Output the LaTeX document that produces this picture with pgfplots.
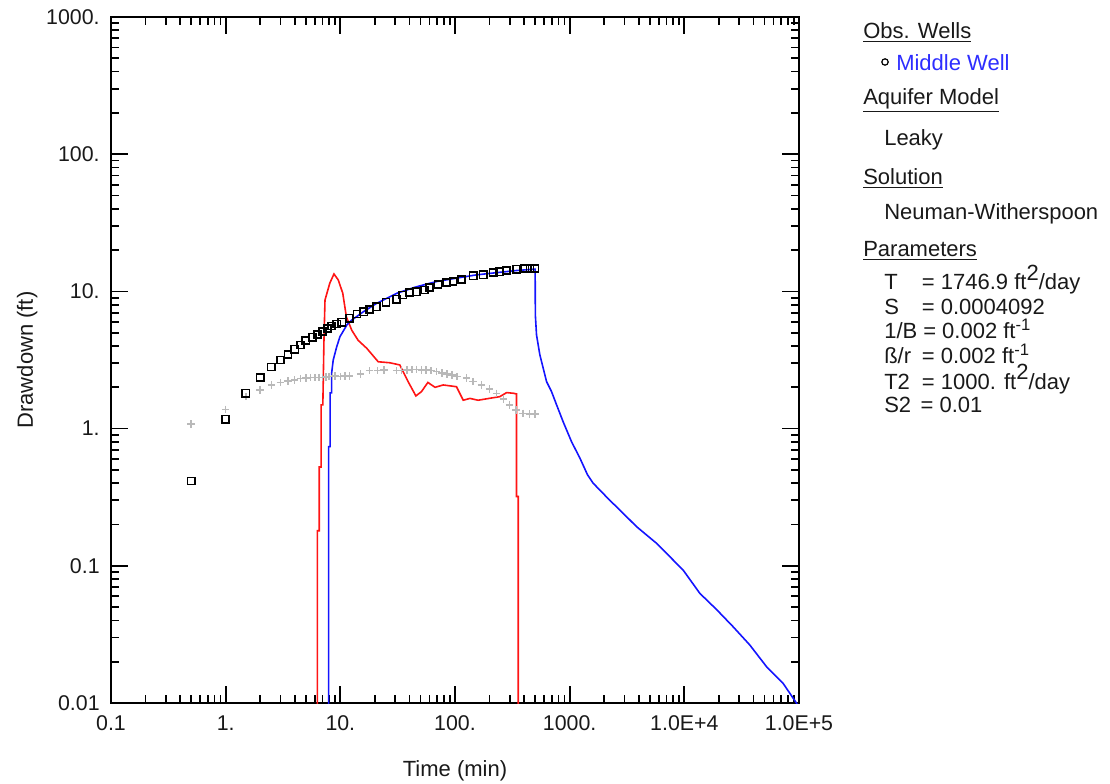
\documentclass[border=0pt]{standalone}
\usepackage{fontspec}
\setmainfont{Liberation Sans}
\usepackage{pgfplots}
\usepackage{pgfplotstable}
\pgfplotsset{compat=1.18}
\definecolor{txt}{RGB}{25,25,25}
\definecolor{plusgray}{RGB}{185,185,185}
\definecolor{mwblue}{RGB}{45,45,255}
\definecolor{mred}{RGB}{255,20,20}
\definecolor{mblue}{RGB}{20,20,255}

\pgfplotstableread{
t s
0.5 0.415
1.0 1.17
1.5 1.81
2.0 2.35
2.5 2.81
3.0 3.16
3.5 3.48
4.0 3.79
4.5 4.07
5.0 4.38
5.7 4.63
6.3 4.84
7.0 5.09
7.7 5.35
8.4 5.6
9.3 5.78
10.3 5.96
12 6.37
14 6.84
16 7.11
18 7.4
20.7 7.73
25 8.33
31 8.76
35 9.41
40 9.79
46 9.95
54 10.24
60 10.7
71 11.2
84 11.6
96 11.8
114 12.2
144 13.0
176 13.2
215 13.7
246 13.9
282 14.2
344 14.5
406 14.7
450 14.7
497 14.7
}\obsdata

\pgfplotstableread{
t d
0.5 1.08
1.0 1.38
1.5 1.71
2.0 1.91
2.5 2.08
3.0 2.16
3.5 2.22
4.0 2.26
4.5 2.31
5.0 2.34
5.5 2.35
6 2.35
6.5 2.36
7 2.36
7.5 2.37
8 2.39
8.5 2.40
9 2.42
10 2.39
11 2.41
12 2.42
15 2.5
18 2.64
21 2.65
24 2.67
31 2.64
34 2.66
38 2.67
42 2.69
46 2.7
51 2.68
56 2.67
62 2.64
69 2.6
77 2.55
85 2.5
94 2.45
104 2.39
126 2.33
144 2.2
170 2.08
200 1.94
230 1.81
265 1.64
300 1.49
340 1.37
390 1.29
445 1.28
497 1.28
}\derivdata

\pgfplotstableread{
t d
6.3 0.001
6.3 0.18
6.55 0.18
6.55 0.525
6.8 0.525
6.8 1.49
7.05 1.49
7.05 1.61
7.2 4.42
7.35 8.65
8.1 11.5
8.8 13.4
9.6 12.1
10.5 9.7
11.3 6.5
12.6 5.2
14.3 4.4
17 3.85
21.4 3.07
27 3.02
33 2.91
39 2.2
45.6 1.73
51 1.86
58 2.17
67 2.0
79 2.08
103 2.02
118 1.61
135 1.66
159 1.61
246 1.71
282 1.83
322 1.81
344 1.79
344 0.32
356 0.32
356 0.001
}\modelderiv

\pgfplotstableread{
t s
7.9 0.001
7.9 0.74
8.15 0.74
8.15 1.82
8.4 1.82
8.4 2.54
8.67 3.16
9.3 3.95
9.93 4.68
11.4 5.69
12.6 6.19
15.9 7.11
20.7 8.18
31 9.68
46 10.8
69 11.8
103 12.5
154 13.2
231 13.7
344 14.2
481 14.5
500 14.5
502 6.73
514 4.81
550 3.44
588 2.75
629 2.2
695 1.86
769 1.49
878 1.12
1040 0.80
1228 0.61
1432 0.46
1603 0.40
2240 0.30
2740 0.255
3830 0.193
5720 0.146
9770 0.093
13650 0.063
19100 0.048
26600 0.036
37200 0.0265
52100 0.0184
72700 0.0139
95000 0.01
100000 0.0092
}\modeldata

\newcommand{\sq}[1]{\raisebox{0.42em}{#1}}
\newcommand{\sm}[1]{\raisebox{0.38em}{\fontsize{12.5pt}{12.5pt}\selectfont #1}}

\begin{document}
\begin{tikzpicture}[font=\fontsize{16.5pt}{19pt}\selectfont, text=txt]
\begin{loglogaxis}[
  at={(0,0)}, anchor=south west,
  width=516pt, height=514.5pt, scale only axis,
  xmin=0.1, xmax=1e5, ymin=0.01, ymax=1000,
  axis line style={line width=1.4pt, black},
  tick align=inside,
  major tick length=12.75pt, minor tick length=6pt,
  every tick/.style={black, line width=1.3pt},
  xtick={0.1,1,10,100,1000,10000,100000},
  xticklabels={0.1,1.,10.,100.,1000.,1.0E+4,1.0E+5},
  ytick={0.01,0.1,1,10,100,1000},
  yticklabels={0.01,0.1,1.,10.,100.,1000.},
  /pgf/number format/assume math mode=true,
  tick label style={font=\fontsize{16pt}{19pt}\selectfont},
  xticklabel style={yshift=-6pt},
  yticklabel style={xshift=-5pt},
  xlabel={Time (min)}, ylabel={Drawdown (ft)},
  xlabel style={at={(axis description cs:0.5,-0.10641)}, anchor=base},
  ylabel style={at={(axis description cs:-0.11337,0.5)}, anchor=base},
  clip=true,
]
\addplot[only marks, mark=+, mark size=2.8pt, plusgray, mark options={line width=1.1pt}] table[x=t,y=d] {\derivdata};
\addplot[only marks, mark=square, mark size=2.7pt, black, mark options={line width=1.2pt}] table[x=t,y=s] {\obsdata};
\addplot[mred, line width=1.2pt] table[x=t,y=d] {\modelderiv};
\addplot[mblue, line width=1.2pt] table[x=t,y=s] {\modeldata};
\end{loglogaxis}

\begin{scope}[every node/.style={inner sep=0pt, anchor=base west}]
\node at (564pt,498pt) {\underline{Obs. Wells}};
\node[anchor=center] at (580.5pt,480.75pt) {\tikz\draw[line width=0.9pt, black] (0,0) circle (2.4pt);};
\node[text=mwblue] at (588.75pt,474pt) {Middle Well};
\node at (564pt,448.5pt) {\underline{Aquifer Model}};
\node at (579.75pt,417.75pt) {Leaky};
\node at (564pt,388.5pt) {\underline{Solution}};
\node at (579.75pt,362.25pt) {Neuman-Witherspoon};
\node at (564pt,334.5pt) {\underline{Parameters}};
\node at (579.75pt,309.75pt) {T};
\node at (608pt,309.75pt) {= 1746.9 ft\sq{2}/day};
\node at (579.75pt,291pt) {S};
\node at (608pt,291pt) {= 0.0004092};
\node at (579.75pt,273pt) {1/B};
\node at (609pt,273pt) {= 0.002 ft\sm{-1}};
\node at (579.75pt,254.5pt) {ß/r};
\node at (608pt,254.5pt) {= 0.002 ft\sm{-1}};
\node at (579.75pt,235.5pt) {T2};
\node at (608pt,235.5pt) {= 1000. ft\sq{2}/day};
\node at (579.75pt,218.25pt) {S2};
\node at (607pt,218.25pt) {= 0.01};
\end{scope}

\pgfresetboundingbox
\path (-83.25pt,-60pt) rectangle (749.25pt,527.25pt);
\end{tikzpicture}
\end{document}
